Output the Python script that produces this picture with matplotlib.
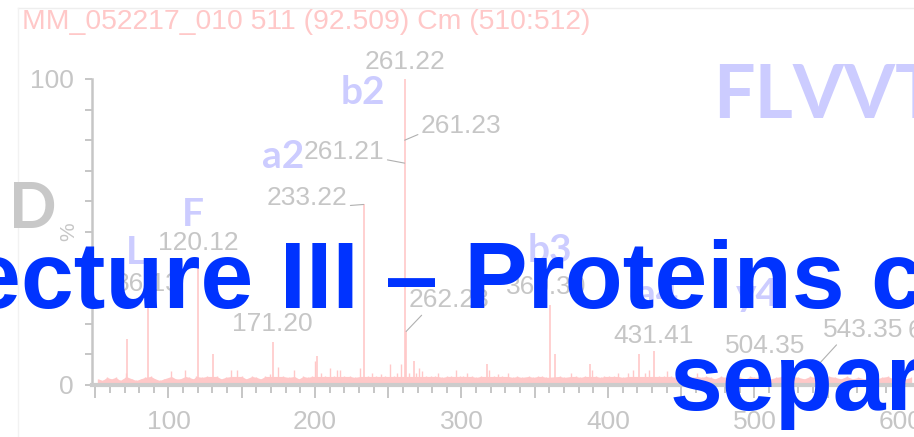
import matplotlib
matplotlib.use("Agg")
import matplotlib.pyplot as plt
import numpy as np
from matplotlib.ticker import MultipleLocator, FuncFormatter

# spectrum: labelled / main peaks (m/z, relative intensity %)
peak_mz = [72.0, 86.13, 120.12, 130.1, 171.20, 201.5, 233.22, 261.22, 262.23,
           267.5, 317.5, 360.30, 363.8, 388.0, 421.0, 431.41, 504.35, 543.35]
peak_int = [15, 28, 41.5, 10, 14, 9.5, 59, 100, 17.5,
            8, 7, 26, 10, 7, 10, 11, 7, 6.5]

# small noise peaks
noise_mz = [52, 55, 58, 61, 64, 67, 69, 71, 75, 78, 81, 84, 88, 91, 94, 97,
            102, 105, 108, 111.6, 114, 117, 119, 123, 126, 133, 136, 139, 143,
            147, 150, 153, 157, 160, 163, 166, 169, 175, 178, 182, 186, 189,
            192, 195, 198, 200, 204, 207, 210, 213, 215, 217, 220, 224, 227,
            231, 236, 239, 242, 245, 248, 251, 254, 256, 259, 264, 269, 271,
            273, 276, 279, 282, 284, 287, 290, 293, 296, 299, 301, 304, 307,
            310, 313, 319, 322, 325, 328, 332, 335, 338, 341, 346, 349, 352,
            355, 358, 367, 370, 375, 378, 381, 384, 389, 392, 395, 397.6, 401,
            404, 407, 410, 414, 417, 425, 428, 435, 438, 440, 443, 446, 449,
            452, 455, 458, 461, 464, 467, 470, 473, 477, 480, 484, 487, 490,
            494, 497, 500, 508, 511, 515, 519, 522, 526, 530, 534, 538, 541,
            547, 551, 555, 559, 563, 567, 571, 575, 579, 583, 587, 591, 595,
            599, 603, 607]
noise_int = [2, 1.5, 2.5, 2, 2.5, 1.5, 2, 4, 2, 1.5, 2, 2.5, 3, 2, 1.5, 2,
             4.5, 2, 2, 5, 2.5, 2, 3, 2.5, 3, 3, 2, 2.5, 5,
             5, 3, 2, 3, 2.5, 2, 3, 3.5, 6, 3, 2.5, 5, 2,
             3, 2.5, 3, 8, 4, 3, 5.5, 3, 5, 5, 3, 3, 2.5,
             5.5, 3, 4, 3, 3.5, 3, 7, 3, 4, 7, 4, 4, 5.5,
             4.5, 3, 3, 3, 4, 2.5, 3, 3, 5, 3, 3, 4, 3,
             2.5, 3, 5, 3, 3.5, 3, 4, 2.5, 3, 2.5, 3, 2.5, 3,
             3, 2.5, 3, 2.5, 4, 3, 2.5, 3, 5, 3, 2.5, 3, 3,
             3, 4, 2.5, 4, 5, 4, 5, 3, 3, 4.5, 3, 2.5, 3,
             2.5, 3, 2.5, 4, 2.5, 3, 2.5, 2, 3, 2.5, 2, 3, 2.5,
             2, 3, 2.5, 3, 2, 2.5, 3, 2, 3, 2.5, 2, 3, 2.5,
             2, 3, 2.5, 2, 3, 2, 2.5, 2, 3, 2, 2.5, 3, 2,
             2.5, 2, 2.5]

# peak annotations
label_text = ["261.22", "261.23", "261.21", "233.22", "120.12", "86.13",
              "171.20", "262.23", "360.30", "431.41", "504.35", "543.35", "606.38"]
label_mz = [261.22, 261.23, 261.21, 233.22, 120.12, 86.13,
            171.20, 262.23, 360.30, 431.41, 504.35, 543.35, 606.38]
label_int = [100, 80, 72.5, 59, 41.5, 28, 14, 17.5, 26, 11, 7, 6.5, 5]

ion_text = ["b2", "a2", "F", "L", "b3", "a4", "y4"]
header = "MM_052217_010 511 (92.509) Cm (510:512)"
sequence = "FLVVT"
panel = "D"
title1 = "Lecture III \u2013 Proteins characterization"
title2 = "separation"

W, H = 914, 437
PT = 0.72  # points per pixel at 100 dpi


def fx(px):
    return px / W


def fy(py):
    return 1 - py / H


fig = plt.figure(figsize=(9.14, 4.37), dpi=100)
font = "Liberation Sans"
pink = "#ffc8c8"
grey = "#c6c6c6"
lilac = "#ccccff"

# faint frame of the pasted spectrum image
fig.add_artist(plt.Line2D([fx(18), 1], [fy(8), fy(8)], color="#eeeeee", lw=1))
fig.add_artist(plt.Line2D([fx(18), fx(18)], [fy(8), 0], color="#f2f2f2", lw=1))

ax = fig.add_axes([fx(92), fy(385), 1 - fx(92), fy(79) - fy(385)])
ax.set_xlim(47.8, 608.9)
ax.set_ylim(0, 100)
ax.patch.set_alpha(0)

floor = np.minimum(noise_int, 2.8)
ax.fill_between(noise_mz, 0, floor, color=pink, lw=0)
ax.vlines(noise_mz, 0, noise_int, color=pink, lw=1.0)
ax.vlines(peak_mz, 0, peak_int, color=pink, lw=1.2)

for s in ["top", "right"]:
    ax.spines[s].set_visible(False)
ax.spines["left"].set_color(grey)
ax.spines["left"].set_linewidth(1.8)
ax.spines["bottom"].set_color("#cccccc")
ax.spines["bottom"].set_linewidth(3)
ax.spines["bottom"].set_zorder(3)

ax.xaxis.set_major_locator(MultipleLocator(50))
ax.xaxis.set_minor_locator(MultipleLocator(10))
ax.xaxis.set_major_formatter(FuncFormatter(lambda v, p: "%d" % v if v % 100 == 0 else ""))
ax.yaxis.set_major_locator(MultipleLocator(10))
ax.yaxis.set_major_formatter(FuncFormatter(lambda v, p: "%d" % v if v in (0, 100) else ""))
ax.tick_params(axis="x", which="major", length=9, width=1.4, color=grey, pad=9,
               labelsize=19, labelcolor=grey)
ax.tick_params(axis="x", which="minor", length=6, width=1.4, color=grey)
ax.tick_params(axis="y", which="major", length=5, width=1.4, color=grey, pad=8,
               labelsize=19, labelcolor=grey)
for lab in ax.get_xticklabels() + ax.get_yticklabels():
    lab.set_family(font)

# peak labels: offsets in px (dx, dy), alignment, leader attach point
offsets = [(0, 17, "center", None), (16, 14, "left", (0.0, 0.2)),
           (-20, 11, "right", (1.0, 0.2)), (-16, 6, "right", (1.0, 0.2)),
           (0, 15, "center", None), (0, 15, "center", None),
           (0, 18, "center", None), (2, 31, "left", (0.2, 0.0)),
           (-4, 18, "center", None), (0, 15, "center", None),
           (4, 18, "center", None), (5, 35, "left", (0.2, 0.0)),
           (-3, 39, "left", None)]
for t, m, v, (dx, dy, ha, rel) in zip(label_text, label_mz, label_int, offsets):
    kw = {}
    if rel is not None:
        kw["arrowprops"] = dict(arrowstyle="-", color="#b0b0b0", lw=0.8,
                                shrinkA=0, shrinkB=0, relpos=rel)
    ax.annotate(t, (m, v), xytext=(dx * PT, dy * PT), textcoords="offset points",
                ha=ha, va="center", fontsize=19, color=grey, family=font,
                annotation_clip=False, **kw)

ax.text(-0.028, 0.5, "%", transform=ax.transAxes, rotation=90, ha="center",
        va="center", fontsize=15, color=grey, family=font)

fig.text(fx(22), fy(22), header, fontsize=20.4, color=pink, family=font,
         ha="left", va="center")

# ion labels and sequence
ion_pos = [(363, 93), (283, 157), (193, 214), (136, 252), (550, 251), (657, 295), (757, 295)]
for t, (x, y) in zip(ion_text, ion_pos):
    fig.text(fx(x), fy(y), t, fontsize=28, fontweight="bold", family="Lato",
             color=lilac, ha="center", va="center")
fig.text(fx(713), fy(118), sequence, fontsize=53, fontweight="bold", family="Lato",
         color=lilac, ha="left", va="baseline")
fig.text(fx(33), fy(210), panel, fontsize=45, fontweight="bold", family="Lato",
         color="#c8c8c8", ha="center", va="center")

# slide title over the figure
fig.text(fx(-90), fy(308), title1, fontsize=68.4, fontweight="bold",
         family=font, color="#0033ff", ha="left", va="baseline", zorder=10)
fig.text(fx(670), fy(410), title2, fontsize=68.4, fontweight="bold",
         family=font, color="#0033ff", ha="left", va="baseline", zorder=10)

fig.savefig("out.png", dpi=100)
